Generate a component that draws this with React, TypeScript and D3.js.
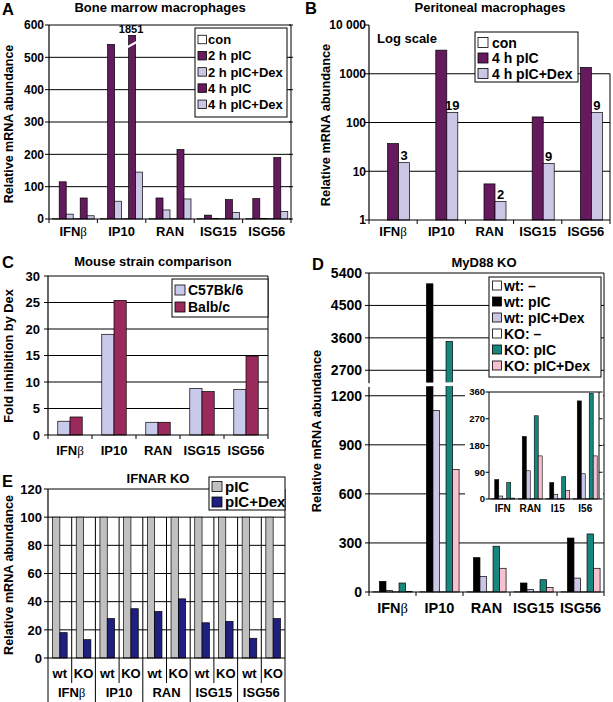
import React from 'react';
import * as d3 from 'd3';

const FONT = '"Liberation Sans", Arial, Helvetica, sans-serif';

// ---------- shared ----------
const genes = ['IFNβ', 'IP10', 'RAN', 'ISG15', 'ISG56'];

// ---------- Panel A : Bone marrow macrophages ----------
const aLegend = ['con', '2 h pIC', '2 h pIC+Dex', '4 h pIC', '4 h pIC+Dex'];
const aCon2h = [1, 1, 1, 1, 1];
const aPic2h = [115, 540, 65, 12, 63];
const aDex2h = [15, 55, 28, 2, 2];
const aCon4h = [1, 1, 1, 1, 1];
const aPic4h = [65, 1851, 215, 60, 190];
const aDex4h = [10, 145, 62, 20, 23];
const aTicks = [0, 100, 200, 300, 400, 500, 600];
const aShownMax = 568; // value where the broken bar is drawn to
const aBreakAt = 540; // value where the break slash is drawn

// ---------- Panel B : Peritoneal macrophages ----------
const bLegend = ['con', '4 h pIC', '4 h pIC+Dex'];
const bCon = [1, 1, 1, 1, 1];
const bPic = [37, 3050, 5.5, 130, 1350];
const bDex = [15, 160, 2.4, 14.5, 160];
const bFold = ['3', '19', '2', '9', '9'];
const bTicks = [1, 10, 100, 1000, 10000];
const bTickLabels = ['1', '10', '100', '1000', '10 000'];

// ---------- Panel C : Mouse strain comparison ----------
const cLegend = ['C57Bk/6', 'Balb/c'];
const cC57 = [2.6, 19, 2.4, 8.8, 8.6];
const cBalb = [3.4, 25.4, 2.4, 8.2, 14.9];
const cTicks = [0, 5, 10, 15, 20, 25, 30];

// ---------- Panel D : MyD88 KO ----------
const dLegend = ['wt: –', 'wt: pIC', 'wt: pIC+Dex', 'KO: –', 'KO: pIC', 'KO: pIC+Dex'];
const dWtNone = [1, 1, 1, 1, 1];
const dWtPic = [65, 5100, 210, 55, 330];
const dWtDex = [10, 1110, 95, 15, 85];
const dKoNone = [1, 1, 1, 1, 1];
const dKoPic = [55, 3500, 280, 75, 355];
const dKoDex = [3, 750, 145, 28, 145];
const dTicksLow = [0, 300, 600, 900, 1200];
const dTicksHigh = [2700, 3600, 4500, 5400];
const dLowMax = 1275;
const dHighMin = 2430;
const dInsetGenes = ['IFN', 'RAN', 'I15', 'I56'];
const dInsetIndex = [0, 2, 3, 4];
const dInsetTicks = [0, 90, 180, 270, 360];

// ---------- Panel E : IFNAR KO ----------
const eGenotypes = ['wt', 'KO'];
const eLegend = ['pIC', 'pIC+Dex'];
const ePic = [100, 100, 100, 100, 100, 100, 100, 100, 100, 100];
const eDex = [18, 13, 28, 35, 33, 42, 25, 26, 14, 28];
const eTicks = [0, 20, 40, 60, 80, 100, 120];

// ---------- colours ----------
const PURPLE = '#641a5c';
const LAV = '#cbc6e6';
const C_LAV = '#c9c9ec';
const C_MAROON = '#9b2a5c';
const TEAL = '#17877e';
const PINK = '#f7c0d0';
const GRAY = '#c0c0c0';
const NAVY = '#1f1f80';

const T = (p: any) => <text fontFamily={FONT} fontWeight="bold" fill="#000" {...p} />;

function geneLabel(g: string) {
  if (g.endsWith('β')) {
    return (
      <>
        {g.slice(0, -1)}
        <tspan fontWeight="normal" fontFamily='"Liberation Serif", "DejaVu Serif", serif'>β</tspan>
      </>
    );
  }
  return g;
}

function Legend({ x, y, w, h, items, fills, firstY, step, sw, fontSize, sx, tx }: any) {
  return (
    <g>
      <rect x={x} y={y} width={w} height={h} fill="#fff" stroke="#000" strokeWidth={1} />
      {items.map((it: string, i: number) => (
        <g key={i}>
          <rect x={sx} y={firstY + i * step - sw / 2} width={sw} height={sw} fill={fills[i]} stroke="#000" strokeWidth={0.8} />
          <T x={tx} y={firstY + i * step} dy="0.36em" fontSize={fontSize}>{it}</T>
        </g>
      ))}
    </g>
  );
}

function YLabel({ x, y, text, size }: any) {
  return (
    <T transform={`translate(${x},${y}) rotate(-90)`} textAnchor="middle" fontSize={size}>{text}</T>
  );
}

// ---------- Panel A ----------
function PanelA() {
  const L = 49, R = 291, TOP = 25, B = 219;
  const y = d3.scaleLinear().domain([0, 600]).range([B, TOP]);
  const x0 = d3.scaleBand().domain(genes).range([L, R]);
  const series = [aCon2h, aPic2h, aDex2h, aCon4h, aPic4h, aDex4h];
  const fills = ['#fff', PURPLE, LAV, '#fff', PURPLE, LAV];
  const x1 = d3.scaleBand().domain(d3.range(series.length).map(String)).range([0, x0.bandwidth()]).paddingOuter(0.46);
  const bw = x1.bandwidth();
  return (
    <g>
      <T x={2} y={14.5} fontSize={16.5}>A</T>
      <T x={160} y={11.5} textAnchor="middle" fontSize={13}>Bone marrow macrophages</T>
      <YLabel x={12.5} y={124} text="Relative mRNA abundance" size={12.5} />
      {aTicks.filter((t) => t > 0).map((t) => (
        <line key={t} x1={L} x2={R} y1={y(t)} y2={y(t)} stroke="#000" strokeWidth={1} />
      ))}
      {series.map((s, si) =>
        s.map((v, gi) => {
          const bx = (x0(genes[gi]) as number) + (x1(String(si)) as number);
          const broken = v > 600;
          const top = y(broken ? aShownMax : v);
          return (
            <g key={si + '-' + gi}>
              <rect x={bx} y={top} width={bw} height={B - top} fill={fills[si]} stroke="#000" strokeWidth={0.7} />
              {broken && (
                <>
                  <line x1={bx - 1.5} x2={bx + bw + 1.5} y1={y(aBreakAt) + 3} y2={y(aBreakAt) - 2.6} stroke="#fff" strokeWidth={2.2} />
                  <T x={bx + bw / 2 - 1} y={top - 2.5} textAnchor="middle" fontSize={11}>{v}</T>
                </>
              )}
            </g>
          );
        })
      )}
      {/* axes */}
      <line x1={L} x2={L} y1={TOP} y2={B} stroke="#000" strokeWidth={1.2} />
      <line x1={L} x2={R} y1={B} y2={B} stroke="#000" strokeWidth={1.2} />
      <line x1={R} x2={R} y1={TOP} y2={B} stroke="#000" strokeWidth={1} />
      {aTicks.map((t) => (
        <g key={t}>
          <line x1={L - 4} x2={L} y1={y(t)} y2={y(t)} stroke="#000" />
          <line x1={R - 2} x2={R + 2} y1={y(t)} y2={y(t)} stroke="#000" />
          <T x={44} y={y(t)} dy="0.36em" textAnchor="end" fontSize={12}>{t}</T>
        </g>
      ))}
      {d3.range(genes.length + 1).map((i) => (
        <line key={i} x1={L + i * x0.step()} x2={L + i * x0.step()} y1={B} y2={B + 4} stroke="#000" />
      ))}
      {genes.map((g) => (
        <T key={g} x={(x0(g) as number) + x0.bandwidth() / 2} y={236} textAnchor="middle" fontSize={13}>{geneLabel(g)}</T>
      ))}
      <Legend x={195} y={28} w={92} h={89} items={aLegend} fills={['#fff', PURPLE, LAV, PURPLE, LAV]}
        firstY={39.5} step={16.2} sw={8.5} fontSize={13} sx={198} tx={208} />
    </g>
  );
}

// ---------- Panel B ----------
function PanelB() {
  const L = 369, R = 610, TOP = 25, B = 220;
  const y = d3.scaleLog().domain([1, 10000]).range([B, TOP]);
  const x0 = d3.scaleBand().domain(genes).range([L, R]);
  const series = [bCon, bPic, bDex];
  const fills = ['#fff', PURPLE, LAV];
  const x1 = d3.scaleBand().domain(['0', '1', '2']).range([0, x0.bandwidth()]).paddingOuter(0.69);
  const bw = x1.bandwidth();
  return (
    <g>
      <T x={305} y={14} fontSize={16.5}>B</T>
      <T x={490} y={12} textAnchor="middle" fontSize={13}>Peritoneal macrophages</T>
      <YLabel x={330} y={125} text="Relative mRNA abundance" size={12.8} />
      {bTicks.filter((t) => t > 1 && t < 10000).map((t) => (
        <line key={t} x1={L} x2={R} y1={y(t)} y2={y(t)} stroke="#000" strokeWidth={1} />
      ))}
      {series.map((s, si) =>
        s.map((v, gi) => {
          const bx = (x0(genes[gi]) as number) + (x1(String(si)) as number);
          const top = y(v);
          return <rect key={si + '-' + gi} x={bx} y={top} width={bw} height={B - top} fill={fills[si]} stroke="#000" strokeWidth={0.7} />;
        })
      )}
      {bDex.map((v, gi) => {
        const bx = (x0(genes[gi]) as number) + (x1('2') as number);
        return <T key={gi} x={bx + bw / 2} y={y(v) - 2.5} textAnchor="middle" fontSize={13}>{bFold[gi]}</T>;
      })}
      <line x1={L} x2={L} y1={TOP} y2={B} stroke="#000" strokeWidth={1.2} />
      <line x1={L} x2={R} y1={B} y2={B} stroke="#000" strokeWidth={1.2} />
      <line x1={R} x2={R} y1={y(1000)} y2={B} stroke="#000" strokeWidth={1} />
      {bTicks.map((t, i) => (
        <g key={t}>
          <line x1={L - 4} x2={L} y1={y(t)} y2={y(t)} stroke="#000" />
          <T x={366} y={y(t)} dy="0.36em" textAnchor="end" fontSize={12}>{bTickLabels[i]}</T>
        </g>
      ))}
      {d3.range(genes.length + 1).map((i) => (
        <line key={i} x1={L + i * x0.step()} x2={L + i * x0.step()} y1={B} y2={B + 4} stroke="#000" />
      ))}
      {genes.map((g) => (
        <T key={g} x={(x0(g) as number) + x0.bandwidth() / 2} y={236} textAnchor="middle" fontSize={13}>{geneLabel(g)}</T>
      ))}
      <T x={377} y={42.5} fontSize={13}>Log scale</T>
      <Legend x={475} y={32} w={103} h={50} items={bLegend} fills={fills}
        firstY={42.5} step={15.5} sw={10} fontSize={14} sx={478} tx={492} />
    </g>
  );
}

// ---------- Panel C ----------
function PanelC() {
  const L = 48, R = 268, TOP = 276, B = 435;
  const y = d3.scaleLinear().domain([0, 30]).range([B, TOP]);
  const x0 = d3.scaleBand().domain(genes).range([L, R]);
  const series = [cC57, cBalb];
  const fills = [C_LAV, C_MAROON];
  const x1 = d3.scaleBand().domain(['0', '1']).range([0, x0.bandwidth()]).paddingOuter(0.8);
  const bw = x1.bandwidth();
  return (
    <g>
      <T x={2} y={268} fontSize={16.5}>C</T>
      <T x={153} y={266} textAnchor="middle" fontSize={13}>Mouse strain comparison</T>
      <YLabel x={12.5} y={356} text="Fold inhibition by Dex" size={12.8} />
      {cTicks.filter((t) => t > 0).map((t) => (
        <line key={t} x1={L} x2={R} y1={y(t)} y2={y(t)} stroke="#000" strokeWidth={1} />
      ))}
      {series.map((s, si) =>
        s.map((v, gi) => {
          const bx = (x0(genes[gi]) as number) + (x1(String(si)) as number);
          const top = y(v);
          return <rect key={si + '-' + gi} x={bx} y={top} width={bw} height={B - top} fill={fills[si]} stroke="#000" strokeWidth={0.7} />;
        })
      )}
      <line x1={L} x2={L} y1={TOP} y2={B} stroke="#000" strokeWidth={1.2} />
      <line x1={L} x2={R} y1={B} y2={B} stroke="#000" strokeWidth={1.2} />
      <line x1={R} x2={R} y1={TOP} y2={B} stroke="#000" strokeWidth={1} />
      {cTicks.map((t) => (
        <g key={t}>
          <line x1={L - 4} x2={L} y1={y(t)} y2={y(t)} stroke="#000" />
          <T x={40} y={y(t)} dy="0.36em" textAnchor="end" fontSize={13}>{t}</T>
        </g>
      ))}
      {d3.range(genes.length + 1).map((i) => (
        <line key={i} x1={L + i * x0.step()} x2={L + i * x0.step()} y1={B} y2={B + 4} stroke="#000" />
      ))}
      {genes.map((g) => (
        <T key={g} x={(x0(g) as number) + x0.bandwidth() / 2} y={455} textAnchor="middle" fontSize={13}>{geneLabel(g)}</T>
      ))}
      <Legend x={172} y={279} w={96} h={38} items={cLegend} fills={fills}
        firstY={290} step={17} sw={10} fontSize={14} sx={175} tx={188} />
    </g>
  );
}

// ---------- Panel D ----------
function PanelD() {
  const L = 369, R = 604, B = 592;
  const yLo = d3.scaleLinear().domain([0, dLowMax]).range([B, 383.5]);
  const yHi = d3.scaleLinear().domain([dHighMin, 5400]).range([380, 273]);
  const yD = (v: number) => (v <= dLowMax ? yLo(v) : yHi(v));
  const x0 = d3.scaleBand().domain(genes).range([L, R]);
  const series = [dWtNone, dWtPic, dWtDex, dKoNone, dKoPic, dKoDex];
  const fills = ['#fff', '#000', LAV, '#fff', TEAL, PINK];
  const keys = d3.range(series.length).map(String);
  const x1 = d3.scaleBand().domain(keys).range([0, x0.bandwidth()]).paddingOuter(0.6);
  const bw = x1.bandwidth();
  // inset
  const iL = 489, iR = 599, iT = 392, iB = 499;
  const yi = d3.scaleLinear().domain([0, 360]).range([iB, iT]);
  const xi0 = d3.scaleBand().domain(dInsetGenes).range([iL, iR]);
  const xi1 = d3.scaleBand().domain(keys).range([0, xi0.bandwidth()]).paddingOuter(0.45);
  const ibw = xi1.bandwidth();
  const allTicks = [...dTicksLow, ...dTicksHigh];
  return (
    <g>
      <T x={312} y={270} fontSize={16.5}>D</T>
      <T x={484} y={267} textAnchor="middle" fontSize={13}>MyD88 KO</T>
      <YLabel x={321} y={431} text="Relative mRNA abundance" size={12.8} />
      {allTicks.filter((t) => t > 0).map((t) => (
        <line key={t} x1={L} x2={R} y1={yD(t)} y2={yD(t)} stroke="#000" strokeWidth={1} />
      ))}
      {series.map((s, si) =>
        s.map((v, gi) => {
          const bx = (x0(genes[gi]) as number) + (x1(String(si)) as number);
          const top = yD(v);
          return <rect key={si + '-' + gi} x={bx} y={top} width={bw} height={B - top} fill={fills[si]} stroke="#000" strokeWidth={0.7} />;
        })
      )}
      <line x1={L} x2={L} y1={273} y2={B} stroke="#000" strokeWidth={1.2} />
      <line x1={L} x2={R} y1={B} y2={B} stroke="#000" strokeWidth={1.2} />
      {allTicks.map((t) => (
        <g key={t}>
          <line x1={L - 4} x2={L} y1={yD(t)} y2={yD(t)} stroke="#000" />
          <T x={362} y={yD(t)} dy="0.36em" textAnchor="end" fontSize={14}>{t}</T>
        </g>
      ))}
      {/* axis break */}
      <polygon points={`${L - 6},387 ${R + 5},384 ${R + 5},380.5 ${L - 6},383.3`} fill="#fff" />
      {d3.range(genes.length + 1).map((i) => (
        <line key={i} x1={L + i * x0.step()} x2={L + i * x0.step()} y1={B} y2={B + 4} stroke="#000" />
      ))}
      {genes.map((g) => (
        <T key={g} x={(x0(g) as number) + x0.bandwidth() / 2} y={613} textAnchor="middle" fontSize={14.5}>{geneLabel(g)}</T>
      ))}
      <Legend x={489} y={277} w={112} h={100} items={dLegend} fills={fills}
        firstY={285.5} step={16} sw={9} fontSize={14} sx={492.5} tx={504} />
      {/* inset */}
      <rect x={465} y={386.5} width={138} height={131} fill="#fff" />
      <line x1={R} x2={R} y1={273} y2={B} stroke="#000" strokeWidth={1} />
      {series.map((s, si) =>
        dInsetIndex.map((gi, k) => {
          const v = s[gi];
          const bx = (xi0(dInsetGenes[k]) as number) + (xi1(String(si)) as number);
          const top = yi(v);
          return <rect key={'i' + si + '-' + k} x={bx} y={top} width={ibw} height={iB - top} fill={fills[si]} stroke="#000" strokeWidth={0.6} />;
        })
      )}
      <line x1={iL} x2={iL} y1={iT} y2={iB} stroke="#000" strokeWidth={1} />
      <line x1={iL} x2={iR} y1={iB} y2={iB} stroke="#000" strokeWidth={1} />
      <line x1={iR} x2={iR} y1={iT} y2={iB} stroke="#000" strokeWidth={1} />
      <line x1={iL} x2={iR} y1={iT} y2={iT} stroke="#000" strokeWidth={1} />
      {dInsetTicks.map((t) => (
        <g key={t}>
          <line x1={iL - 3.5} x2={iL} y1={yi(t)} y2={yi(t)} stroke="#000" />
          <line x1={iR} x2={iR + 3.5} y1={yi(t)} y2={yi(t)} stroke="#000" />
          <T x={485} y={yi(t)} dy="0.36em" textAnchor="end" fontSize={9.5}>{t}</T>
        </g>
      ))}
      {dInsetGenes.map((g) => (
        <T key={g} x={(xi0(g) as number) + xi0.bandwidth() / 2} y={512} textAnchor="middle" fontSize={10}>{g}</T>
      ))}
    </g>
  );
}

// ---------- Panel E ----------
function PanelE() {
  const L = 48, R = 285, TOP = 489, B = 658;
  const y = d3.scaleLinear().domain([0, 120]).range([B, TOP]);
  const sub = genes.flatMap((g) => eGenotypes.map((t) => g + '|' + t));
  const x0 = d3.scaleBand().domain(sub).range([L, R]);
  const x1 = d3.scaleBand().domain(['0', '1']).range([0, x0.bandwidth()]).paddingOuter(0.62);
  const bw = x1.bandwidth();
  const series = [ePic, eDex];
  const fills = [GRAY, NAVY];
  return (
    <g>
      <T x={2} y={486.5} fontSize={16.5}>E</T>
      <T x={158} y={482.5} textAnchor="middle" fontSize={13}>IFNAR KO</T>
      <YLabel x={12.5} y={575} text="Relative mRNA abundance" size={12.6} />
      {eTicks.filter((t) => t > 0).map((t) => (
        <line key={t} x1={L} x2={R} y1={y(t)} y2={y(t)} stroke="#000" strokeWidth={1} />
      ))}
      {d3.range(1, sub.length).map((i) => (
        <line key={'v' + i} x1={L + i * x0.step()} x2={L + i * x0.step()} y1={y(100)} y2={B} stroke="#000" strokeWidth={1} />
      ))}
      {series.map((s, si) =>
        s.map((v, k) => {
          const bx = (x0(sub[k]) as number) + (x1(String(si)) as number);
          const top = y(v);
          return <rect key={si + '-' + k} x={bx} y={top} width={bw} height={B - top} fill={fills[si]} stroke="#000" strokeWidth={0.7} />;
        })
      )}
      <line x1={L} x2={L} y1={TOP} y2={B} stroke="#000" strokeWidth={1.2} />
      <line x1={L} x2={R} y1={B} y2={B} stroke="#000" strokeWidth={1.2} />
      <line x1={R} x2={R} y1={TOP} y2={B} stroke="#000" strokeWidth={1} />
      {eTicks.map((t) => (
        <g key={t}>
          <line x1={L - 4} x2={L} y1={y(t)} y2={y(t)} stroke="#000" />
          <T x={42} y={y(t)} dy="0.36em" textAnchor="end" fontSize={13}>{t}</T>
        </g>
      ))}
      {d3.range(sub.length + 1).map((i) => (
        <line key={'s' + i} x1={L + i * x0.step()} x2={L + i * x0.step()} y1={B} y2={i % 2 === 0 ? 702 : 683} stroke="#000" strokeWidth={1} />
      ))}
      {sub.map((s) => (
        <T key={s} x={(x0(s) as number) + x0.bandwidth() / 2} y={678} textAnchor="middle" fontSize={13}>{s.split('|')[1]}</T>
      ))}
      {genes.map((g, gi) => (
        <T key={g} x={L + (gi * 2 + 1) * x0.step()} y={697} textAnchor="middle" fontSize={13}>{geneLabel(g)}</T>
      ))}
      <Legend x={209} y={477} w={76} h={33} items={eLegend} fills={fills}
        firstY={486.5} step={15.5} sw={10} fontSize={15} sx={212} tx={225} />
    </g>
  );
}

export default function App() {
  return (
    <svg width={613} height={702} style={{ position: 'absolute', left: 0, top: 0, background: '#fff' }}>
      <rect width={613} height={702} fill="#fff" />
      <PanelA />
      <PanelB />
      <PanelC />
      <PanelD />
      <PanelE />
    </svg>
  );
}
